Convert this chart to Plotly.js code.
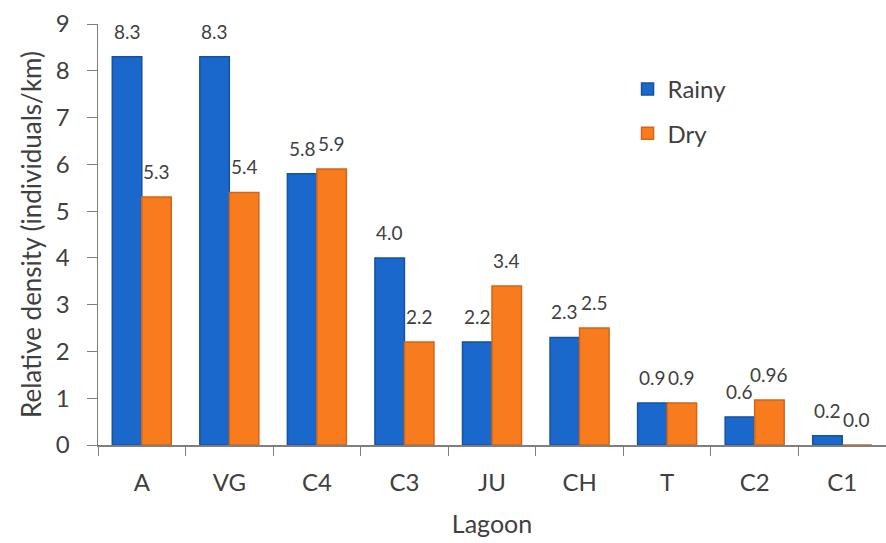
<!DOCTYPE html>
<html>
<head>
<meta charset="utf-8">
<script src="https://cdn.plot.ly/plotly-3.0.1.min.js"></script>
<style>html,body{margin:0;padding:0;background:#fff;}#chart{width:886px;height:543px;}</style>
</head>
<body>
<div id="chart"></div>
<script>
var lagoons = ["A", "VG", "C4", "C3", "JU", "CH", "T", "C2", "C1"];
var rainy = [8.3, 8.3, 5.8, 4.0, 2.2, 2.3, 0.9, 0.6, 0.2];
var dry = [5.3, 5.4, 5.9, 2.2, 3.4, 2.5, 0.9, 0.96, 0.0];
var rainyLabels = ["8.3", "8.3", "5.8", "4.0", "2.2", "2.3", "0.9", "0.6", "0.2"];
var dryLabels = ["5.3", "5.4", "5.9", "2.2", "3.4", "2.5", "0.9", "0.96", "0.0"];

var font = "Lato, 'Open Sans', sans-serif";
var txt = "#404040";
var traces = [
  {type: "bar", name: "Rainy", x: lagoons, y: rainy, legendgroup: "r",
   marker: {color: "#1a68cc", line: {color: "#1552a0", width: 1.5}}},
  {type: "bar", name: "Dry", x: lagoons, y: dry, legendgroup: "d",
   marker: {color: "#f87b1e", line: {color: "#d0661a", width: 1.5}}}
];

var annotations = [];
function addLabels(vals, labels, shift) {
  for (var i = 0; i < lagoons.length; i++) {
    annotations.push({
      x: lagoons[i], y: vals[i], xref: "x", yref: "y",
      text: labels[i], showarrow: false, xanchor: "center", yanchor: "bottom",
      xshift: shift, yshift: 12,
      font: {family: font, size: 19, color: txt}
    });
  }
}
addLabels(rainy, rainyLabels, -14.7);
addLabels(dry, dryLabels, 14.7);

var layout = {
  width: 886, height: 543,
  margin: {l: 98, r: 0, t: 24, b: 98},
  paper_bgcolor: "#fff", plot_bgcolor: "#fff",
  barmode: "group", bargap: 0.326, bargroupgap: 0,
  font: {family: font, color: txt},
  showlegend: true,
  legend: {x: 0.672, y: 0.898, xanchor: "left", yanchor: "top",
           traceorder: "grouped", tracegroupgap: 10,
           font: {family: font, size: 24, color: txt},
           bgcolor: "rgba(0,0,0,0)"},
  annotations: annotations,
  xaxis: {
    title: {text: "Lagoon", font: {family: font, size: 25, color: txt}, standoff: 20},
    tickfont: {family: font, size: 24, color: txt},
    ticklabelstandoff: 16,
    showline: true, linecolor: "#7f7f7f", linewidth: 1.5,
    ticks: "outside", tickson: "boundaries", ticklen: 9, tickcolor: "#7f7f7f",
    showgrid: false, zeroline: false
  },
  yaxis: {
    title: {text: "Relative density (individuals/km)", font: {family: font, size: 26, color: txt}, standoff: 6},
    range: [0, 9], dtick: 1,
    tickfont: {family: font, size: 24, color: txt},
    ticklabelstandoff: 12,
    showline: true, linecolor: "#7f7f7f", linewidth: 1.5,
    ticks: "outside", ticklen: 10, tickcolor: "#7f7f7f",
    showgrid: false, zeroline: false
  }
};

Plotly.newPlot("chart", traces, layout, {displayModeBar: false, staticPlot: true});
</script>
</body>
</html>
